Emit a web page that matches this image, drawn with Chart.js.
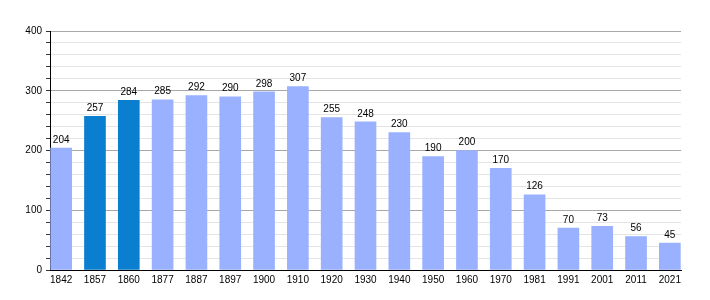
<!DOCTYPE html>
<html>
<head>
<meta charset="utf-8">
<script src="https://cdn.jsdelivr.net/npm/chart.js@4"></script>
<style>
  html, body { margin: 0; padding: 0; background: #fff; }
  #wrap { width: 710px; height: 300px; }
</style>
</head>
<body>
<div id="wrap"><canvas id="popChart"></canvas></div>
<script>
// Datos de la gráfica
const years = ["1842", "1857", "1860", "1877", "1887", "1897", "1900", "1910", "1920", "1930",
               "1940", "1950", "1960", "1970", "1981", "1991", "2001", "2011", "2021"];
const population = [204, 257, 284, 285, 292, 290, 298, 307, 255, 248,
                    230, 190, 200, 170, 126, 70, 73, 56, 45];
const highlighted = ["1857", "1860"];
const yTicks = [0, 100, 200, 300, 400];

const LIGHT = "#99b1ff";
const DARK = "#0a7ecf";
const FONT = "'Liberation Sans', Arial, sans-serif";

// Plugin para escribir el valor encima de cada barra
const valueLabels = {
  id: "valueLabels",
  afterDatasetsDraw(chart) {
    const ctx = chart.ctx;
    const meta = chart.getDatasetMeta(0);
    ctx.save();
    ctx.font = "10px " + FONT;
    ctx.fillStyle = "#000";
    ctx.textAlign = "center";
    ctx.textBaseline = "bottom";
    meta.data.forEach((bar, i) => {
      ctx.fillText(String(population[i]), bar.x, bar.y - 3);
    });
    ctx.restore();
  }
};

const points = population.map((v, i) => ({ x: i, y: v }));

new Chart("popChart", {
  type: "bar",
  data: {
    datasets: [{
      data: points,
      backgroundColor: years.map(y => highlighted.includes(y) ? DARK : LIGHT),
      borderWidth: 0,
      barThickness: 21
    }]
  },
  options: {
    responsive: true,
    maintainAspectRatio: false,
    animation: false,
    layout: { padding: { top: 31, right: 29, bottom: 0, left: 0 } },
    plugins: { legend: { display: false }, tooltip: { enabled: false } },
    scales: {
      x: {
        type: "linear",
        offset: false,
        min: -0.33,
        max: years.length - 1 + 0.33,
        afterBuildTicks: axis => { axis.ticks = years.map((_, i) => ({ value: i })); },
        afterFit: axis => { axis.height = 30; },
        ticks: {
          autoSkip: false,
          maxRotation: 0,
          padding: 4,
          color: "#000",
          font: { family: FONT, size: 10 },
          callback: v => years[v] ?? ""
        },
        grid: { display: false, drawTicks: false },
        border: { display: true, color: "#000", width: 1 }
      },
      y: {
        min: 0,
        max: 400,
        afterFit: axis => { axis.width = 50; },
        ticks: {
          stepSize: 20,
          autoSkip: false,
          padding: 4,
          color: "#000",
          font: { family: FONT, size: 10 },
          callback: v => yTicks.includes(v) ? v : ""
        },
        grid: {
          color: ctx => (ctx.tick && ctx.tick.value % 100 === 0) ? "#a8a8a8" : "#e4e4e4",
          tickColor: "#333",
          tickLength: 4,
          lineWidth: 1
        },
        border: { display: true, color: "#000", width: 1 }
      }
    }
  },
  plugins: [valueLabels]
});
</script>
</body>
</html>
